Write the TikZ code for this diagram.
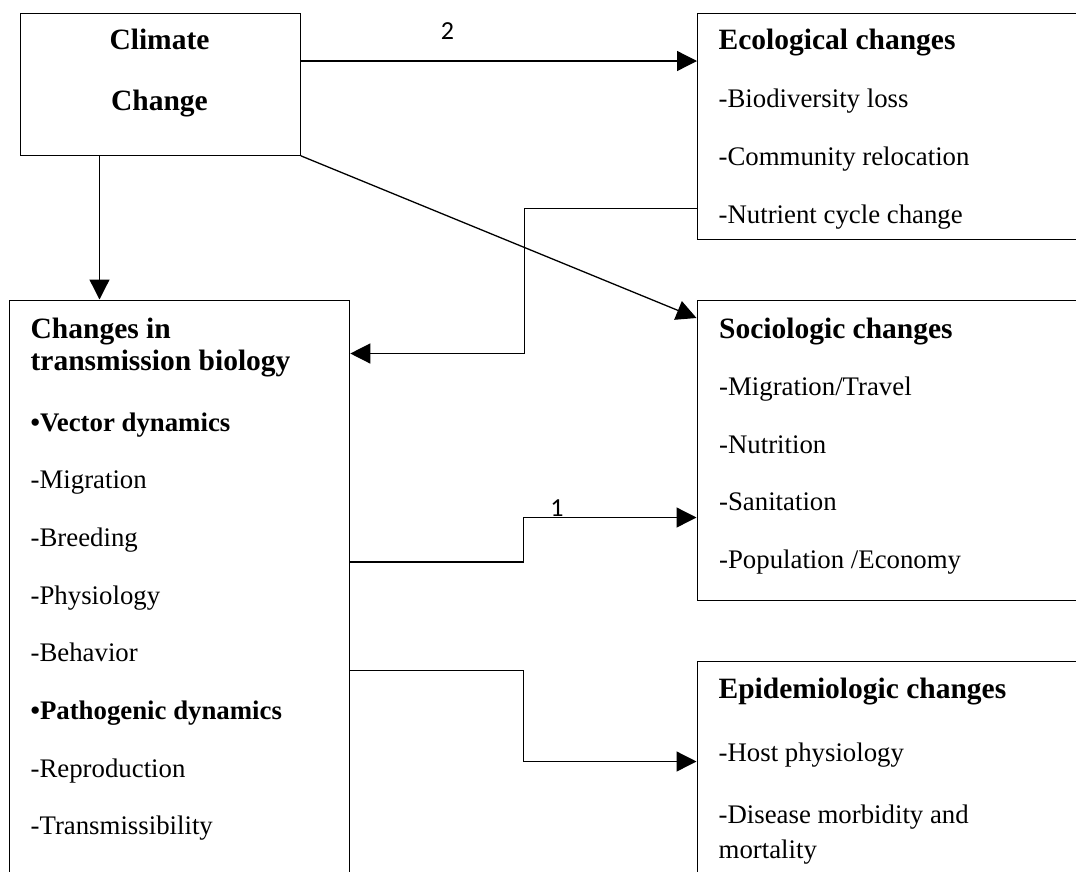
\documentclass[tikz,border=0pt]{standalone}
\usepackage{fontspec}
\setmainfont{Liberation Serif}
\newfontfamily\numfont{Carlito}
\usetikzlibrary{arrows.meta}
\usetikzlibrary{positioning}
\tikzset{
  ->,
  >={Triangle[length=20pt,width=20pt]},
  box/.style = {draw, rectangle, anchor=north west, inner sep=0pt},
  head/.style = {anchor=base west, inner sep=0pt, font=\fontsize{29.5}{34}\selectfont\bfseries},
  item/.style = {anchor=base west, inner sep=0pt, font=\fontsize{26.8}{31}\selectfont},
  num/.style = {anchor=south, inner sep=0pt, font=\numfont\fontsize{26}{30}\selectfont},
}

\begin{document}
\begin{tikzpicture}[x=1pt, y=-1pt, line width=1.3pt]
    \path [use as bounding box, clip] (0,0) rectangle (1076,871);

    % boxes
    \node [box, minimum width=280pt, minimum height=142pt] (climate) at (19.5,12.5) {};
    \node [box, minimum width=400pt, minimum height=226.5pt] (eco) at (697,12.5) {};
    \node [box, minimum width=340.5pt, minimum height=620pt] (trans) at (8.5,299.5) {};
    \node [box, minimum width=400pt, minimum height=300.5pt] (socio) at (696.5,299.5) {};
    \node [box, minimum width=400pt, minimum height=260pt] (epi) at (696.5,661) {};

    % climate change
    \node [head, anchor=base] (climate1) at (159.5,49.5) {Climate};
    \node [head, anchor=base] (climate2) at (159.5,110) {Change};

    % ecological
    \node [head] (eco0) at (718,49) {Ecological changes};
    \foreach \txt [count=\i] in {{-Biodiversity loss}, {-Community relocation}, {-Nutrient cycle change}}
      \node [item] (eco\i) at (718,49+58*\i) {\txt};

    % sociologic
    \node [head] (socio0) at (718.5,338) {Sociologic changes};
    \foreach \txt [count=\i] in {{-Migration/Travel}, {-Nutrition}, {-Sanitation}, {-Population /Economy}}
      \node [item] (socio\i) at (718.5,338+57.5*\i) {\txt};

    % transmission biology
    \node [head] (transA) at (30,338.3) {Changes in};
    \node [head] (transB) at (30,370.7) {transmission biology};
    \foreach \txt [count=\i from 0] in {{\textbf{\textbullet Vector dynamics}}, {-Migration}, {-Breeding},
        {-Physiology}, {-Behavior}, {\textbf{\textbullet Pathogenic dynamics}}, {-Reproduction}, {-Transmissibility}}
      \node [item] (trans\i) at (30,431+57.7*\i) {\txt};

    % epidemiologic
    \node [head] (epi0) at (718,698) {Epidemiologic changes};
    \node [item] (epi1) at (718,761.7) {-Host physiology};
    \node [item] (epi2) at (718,823) {-Disease morbidity and};
    \node [item] (epi3) at (718,858) {mortality};

    % arrows
    \draw ([yshift=-48.5pt]climate.north east) -- ([yshift=-48.5pt]eco.north west)
        node [num, pos=0.37, yshift=21pt] (lbl2) {2};
    \draw ([xshift=80pt]climate.south west) -- ([xshift=80pt]climate.south west |- trans.north);
    \draw (climate.south east) -- ([yshift=-18.5pt]socio.north west);
    \draw ([yshift=-196pt]eco.north west) -| ([xshift=174pt,yshift=-54pt]trans.north east)
        -- ([yshift=-54pt]trans.north east);
    \draw ([yshift=-262.5pt]trans.north east) -- ++(173pt,0) |- ([yshift=-218pt]socio.north west);
    \node [num] (lbl1) at (557,517) {1};
    \draw ([yshift=-371pt]trans.north east) -- ++(173pt,0) |- ([yshift=-100.5pt]epi.north west);
\end{tikzpicture}
\end{document}
